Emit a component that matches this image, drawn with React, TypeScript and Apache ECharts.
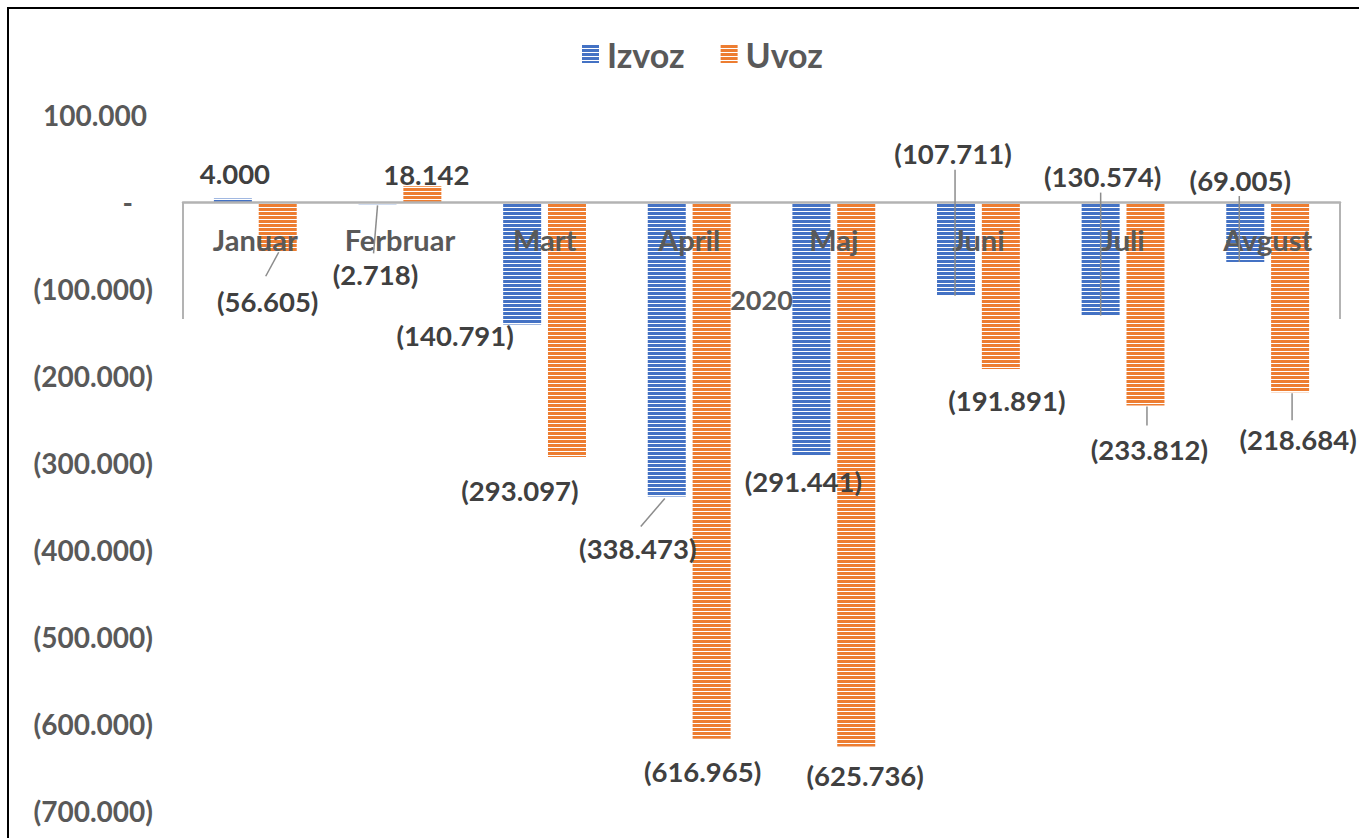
import React, { useEffect, useRef } from 'react';
import * as echarts from 'echarts';

// ---- data ----
const months = ['Januar', 'Ferbruar', 'Mart', 'April', 'Maj', 'Juni', 'Juli', 'Avgust'];
const groupLabels = ['2020'];
const seriesNames = ['Izvoz', 'Uvoz'];
const izvoz = [4000, -2718, -140791, -338473, -291441, -107711, -130574, -69005];
const uvoz = [-56605, 18142, -293097, -616965, -625736, -191891, -233812, -218684];
const yMin = -700000;
const yMax = 100000;
const yStep = 100000;

// ---- label placement (pixels, relative to bar end) ----
const izvozLabelOffsets = [[2, -25], [-2, 70], [-67, 11], [-29, 52], [-8, 26], [-3, -142], [2, -139], [-5, -82]];
const uvozLabelOffsets = [[-10, 50], [4, -12], [-47, 34], [-9, 33], [9, 29], [6, 32], [4, 44], [8, 47]];
const izvozLeaders: (number[] | null)[] = [null, [0, 1, -4, 49], null, [-2, 2, -26, 30], null, [-1, 0, -1, -126], [0, 0, 0, -123], [-6, 0, -6, -66]];
const uvozLeaders: (number[] | null)[] = [[1, 1, -12, 25], null, null, null, null, null, [1.5, 1, 1.5, 20], [2, 1, 2, 28]];

const W = 1359;
const H = 838;
const GRID = { left: 183, right: 19, top: 115, bottom: 27 };
const BAR_W = 38;
const BAR_GAP = '18%';
const BAR_SHIFT = 22.4;
const FONT = 'Lato, "Open Sans", sans-serif';

function thousands(v: number): string {
  return Math.round(Math.abs(v)).toString().replace(/\B(?=(\d{3})+(?!\d))/g, '.');
}
function acct(v: number): string {
  return v < 0 ? '(' + thousands(v) + ')' : thousands(v);
}

function stripe(color: string) {
  const c = document.createElement('canvas');
  c.width = 4;
  c.height = 4;
  const ctx = c.getContext('2d')!;
  ctx.fillStyle = color;
  ctx.fillRect(0, 0, 4, 3);
  ctx.fillStyle = '#ffffff';
  ctx.fillRect(0, 3, 4, 1);
  return { image: c, repeat: 'repeat', imageWidth: 4, imageHeight: 4 } as any;
}

export default function App() {
  const ref = useRef<HTMLDivElement>(null);

  useEffect(() => {
    if (!ref.current) return;
    const chart = echarts.init(ref.current, undefined, { renderer: 'svg' });

    const annData: number[][] = [];
    izvoz.forEach((v, i) => annData.push([i, v, 0]));
    uvoz.forEach((v, i) => annData.push([i, v, 1]));

    // place the category axes on the zero line (offset from grid bottom)
    const gridH = H - GRID.top - GRID.bottom;
    const zeroOffset = -gridH * ((0 - yMin) / (yMax - yMin));

    const yLabel = { fontFamily: FONT, fontSize: 28, fontWeight: 'bold', color: '#595959' };

    const option: any = {
      animation: false,
      backgroundColor: '#ffffff',
      textStyle: { fontFamily: FONT },
      legend: {
        data: seriesNames,
        left: 577,
        top: 32,
        itemWidth: 17,
        itemHeight: 18,
        itemGap: 36,
        icon: 'rect',
        textStyle: { fontFamily: FONT, fontSize: 34, fontWeight: 'bold', color: '#595959', padding: [0, 0, 0, 3] },
      },
      grid: { ...GRID, outerBoundsMode: 'none' },
      xAxis: [
        {
          type: 'category',
          data: months,
          position: 'bottom',
          offset: zeroOffset,
          z: 3,
          axisLine: { onZero: false, lineStyle: { color: '#b3b3b3', width: 2.5 } },
          axisTick: { show: false },
          axisLabel: { margin: 23, fontFamily: FONT, fontSize: 29, fontWeight: 'bold', color: '#595959', interval: 0 },
        },
        {
          type: 'category',
          data: groupLabels,
          position: 'bottom',
          offset: zeroOffset,
          z: 3,
          axisLine: { show: false, onZero: false },
          axisTick: { show: true, length: 117, lineStyle: { color: '#b3b3b3', width: 2 } },
          axisLabel: { margin: 84, fontFamily: FONT, fontSize: 27, fontWeight: 'bold', color: '#595959' },
        },
      ],
      yAxis: {
        type: 'value',
        min: yMin,
        max: yMax,
        interval: yStep,
        axisLine: { show: false },
        axisTick: { show: false },
        splitLine: { show: false },
        axisLabel: {
          margin: 30,
          formatter: (v: number) => (v === 0 ? '{z|-}' : v < 0 ? '{n|' + acct(v) + '}' : '{p|' + acct(v) + '}'),
          rich: {
            n: { ...yLabel },
            p: { ...yLabel, padding: [0, 6, 0, 0] },
            z: { ...yLabel, padding: [0, 20, 0, 0] },
          },
        },
      },
      series: [
        {
          name: seriesNames[0],
          type: 'bar',
          data: izvoz,
          barWidth: BAR_W,
          barGap: BAR_GAP,
          itemStyle: { color: stripe('#4472C4') },
        },
        {
          name: seriesNames[1],
          type: 'bar',
          data: uvoz,
          barWidth: BAR_W,
          barGap: BAR_GAP,
          itemStyle: { color: stripe('#ED7D31') },
        },
        {
          name: 'labels',
          type: 'custom',
          z: 4,
          silent: true,
          data: annData,
          encode: { x: 0, y: 1 },
          renderItem: (params: any, api: any) => {
            const cat = api.value(0);
            const v = api.value(1);
            const s = api.value(2);
            const i = cat as number;
            const pt = api.coord([cat, v]);
            const cx = pt[0] + (s === 0 ? -BAR_SHIFT : BAR_SHIFT);
            const ey = pt[1];
            const off = s === 0 ? izvozLabelOffsets[i] : uvozLabelOffsets[i];
            const ln = s === 0 ? izvozLeaders[i] : uvozLeaders[i];
            const children: any[] = [];
            if (ln) {
              children.push({
                type: 'polyline',
                shape: { points: [[cx + ln[0], ey + ln[1]], [cx + ln[2], ey + ln[3]]] },
                style: { stroke: '#8c8c8c', lineWidth: 1.5, fill: null },
              });
            }
            children.push({
              type: 'text',
              x: cx + off[0],
              y: ey + off[1],
              style: {
                text: acct(v),
                fill: '#404040',
                fontFamily: FONT,
                fontSize: 27.5,
                fontWeight: 'bold',
                align: 'center',
                verticalAlign: 'middle',
              },
            });
            return { type: 'group', children };
          },
        },
      ],
    };

    chart.setOption(option);
    return () => chart.dispose();
  }, []);

  return (
    <div style={{ position: 'fixed', left: 0, top: 0, width: W, height: H, background: '#fff' }}>
      <div ref={ref} style={{ position: 'absolute', left: 0, top: 0, width: W, height: H }} />
      <div
        style={{
          position: 'absolute',
          left: 7,
          top: 7,
          width: 1360,
          height: 840,
          borderTop: '2px solid #000',
          borderLeft: '2px solid #000',
          pointerEvents: 'none',
        }}
      />
    </div>
  );
}
